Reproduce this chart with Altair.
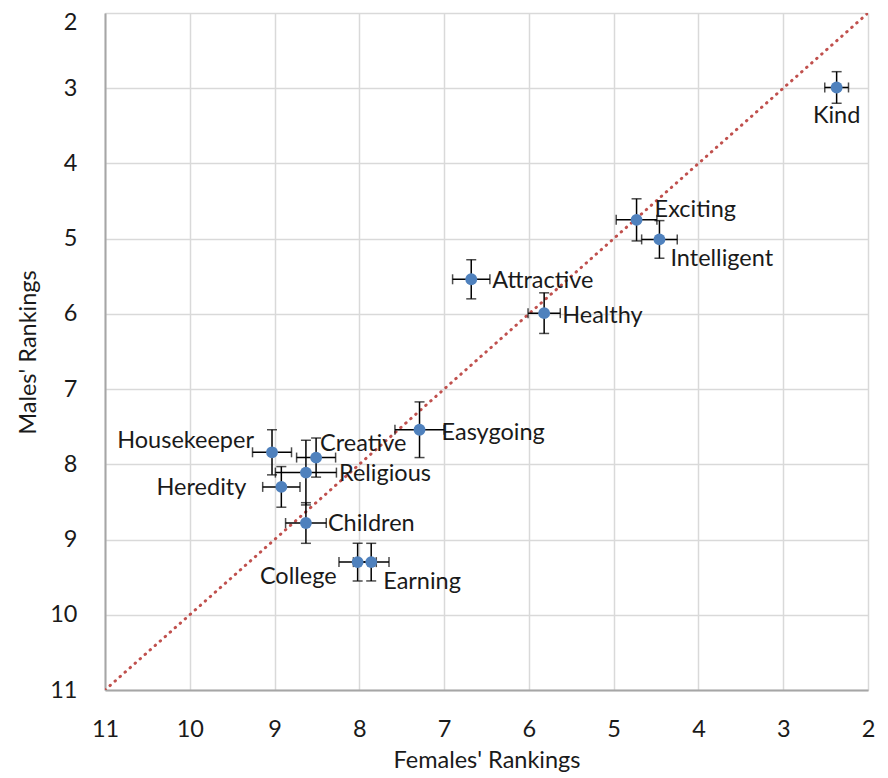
import altair as alt
import pandas as pd

names = ["Kind", "Exciting", "Intelligent", "Attractive", "Healthy", "Easygoing",
         "Housekeeper", "Creative", "Religious", "Heredity", "Children", "College", "Earning"]
female = [2.37, 4.73, 4.46, 6.68, 5.82, 7.29, 9.03, 8.51, 8.63, 8.92, 8.63, 8.02, 7.86]
male = [2.99, 4.75, 5.01, 5.54, 5.99, 7.54, 7.84, 7.91, 8.11, 8.30, 8.78, 9.30, 9.30]
female_err = [0.14, 0.24, 0.21, 0.22, 0.19, 0.29, 0.23, 0.23, 0.36, 0.22, 0.24, 0.22, 0.21]
male_err = [0.21, 0.28, 0.25, 0.26, 0.27, 0.37, 0.30, 0.26, 0.43, 0.27, 0.27, 0.25, 0.25]
diag = [11, 2]
ticks = list(range(2, 12))

# label placement (style): align, dx, dy in pixels
label_style = {
    "Kind": ("center", 0, 29),
    "Exciting": ("left", 18, -10),
    "Intelligent": ("left", 11, 20),
    "Attractive": ("left", 21, 2),
    "Healthy": ("left", 18, 3),
    "Easygoing": ("left", 22, 3),
    "Housekeeper": ("right", -18, -11),
    "Creative": ("left", 4, -14),
    "Religious": ("left", 33, 1),
    "Heredity": ("right", -35, 1),
    "Children": ("left", 22, 1),
    "College": ("right", -21, 15),
    "Earning": ("left", 12, 20),
}

df = pd.DataFrame({"name": names, "f": female, "m": male, "fe": female_err, "me": male_err})
df["f_lo"] = df["f"] - df["fe"]
df["f_hi"] = df["f"] + df["fe"]
df["m_lo"] = df["m"] - df["me"]
df["m_hi"] = df["m"] + df["me"]
ddf = pd.DataFrame({"f": diag, "m": diag})

FONT = "Lato"
FS = 23.5
TXT = "#1a1a1a"

xs = alt.Scale(domain=[2, 11], reverse=True, nice=False, zero=False)
ys = alt.Scale(domain=[2, 11], reverse=True, nice=False, zero=False)

xaxis = alt.Axis(values=ticks, format="d", title="Females' Rankings", grid=True, gridColor="#d9d9d9",
                 gridWidth=1.5, domainColor="#a6a6a6", domainWidth=2, ticks=False,
                 labelPadding=27, labelFontSize=FS, labelFont=FONT, labelColor=TXT,
                 titleFont=FONT, titleFontSize=FS, titleFontWeight="normal", titleColor=TXT,
                 titleY=77, titleBaseline="alphabetic", labelFlush=False)
yaxis = alt.Axis(values=ticks, format="d", title="Males' Rankings", grid=True, gridColor="#d9d9d9",
                 gridWidth=1.5, domainColor="#a6a6a6", domainWidth=2, ticks=False,
                 labelPadding=28, labelFontSize=FS, labelFont=FONT, labelColor=TXT,
                 labelOffset=alt.ExprRef("datum.value == 2 ? 9 : 0"),
                 titleFont=FONT, titleFontSize=FS, titleFontWeight="normal", titleColor=TXT,
                 titleAngle=270, titleX=-70, titleY=339, titleAlign="center",
                 titleBaseline="alphabetic", labelFlush=False)

base = alt.Chart(df)

line = alt.Chart(ddf).mark_line(color="#c0504d", strokeWidth=3, strokeDash=[0.5, 6.2],
                                strokeCap="round", clip=True).encode(
    x=alt.X("f:Q", scale=xs, axis=xaxis),
    y=alt.Y("m:Q", scale=ys, axis=yaxis),
)

hbar = base.mark_rule(color="black", strokeWidth=1.5).encode(
    x=alt.X("f_lo:Q", scale=xs), x2="f_hi:Q", y=alt.Y("m:Q", scale=ys))
vbar = base.mark_rule(color="black", strokeWidth=1.5).encode(
    y=alt.Y("m_lo:Q", scale=ys), y2="m_hi:Q", x=alt.X("f:Q", scale=xs))

cap_l = base.mark_tick(color="black", orient="vertical", size=10, thickness=1.5).encode(
    x=alt.X("f_lo:Q", scale=xs), y=alt.Y("m:Q", scale=ys))
cap_r = base.mark_tick(color="black", orient="vertical", size=10, thickness=1.5).encode(
    x=alt.X("f_hi:Q", scale=xs), y=alt.Y("m:Q", scale=ys))
cap_t = base.mark_tick(color="black", orient="horizontal", size=10, thickness=1.5).encode(
    x=alt.X("f:Q", scale=xs), y=alt.Y("m_lo:Q", scale=ys))
cap_b = base.mark_tick(color="black", orient="horizontal", size=10, thickness=1.5).encode(
    x=alt.X("f:Q", scale=xs), y=alt.Y("m_hi:Q", scale=ys))

pts = base.mark_circle(color="#4f81bd", opacity=1, size=140).encode(
    x=alt.X("f:Q", scale=xs), y=alt.Y("m:Q", scale=ys))

labels = []
for n in names:
    al, dx, dy = label_style[n]
    labels.append(
        base.transform_filter(alt.datum.name == n).mark_text(
            align=al, baseline="middle", dx=dx, dy=dy, font=FONT, fontSize=FS, color=TXT
        ).encode(x=alt.X("f:Q", scale=xs), y=alt.Y("m:Q", scale=ys), text="name:N")
    )

chart = alt.layer(line, hbar, vbar, cap_l, cap_r, cap_t, cap_b, pts, *labels).properties(
    width=763, height=677,
    autosize=alt.AutoSizeParams(type="none"),
    padding={"left": 97, "top": 5, "right": 12, "bottom": 86},
).configure_view(stroke=None).configure(background="white")

chart.save("out.html", embed_options={"renderer": "svg", "actions": False})
